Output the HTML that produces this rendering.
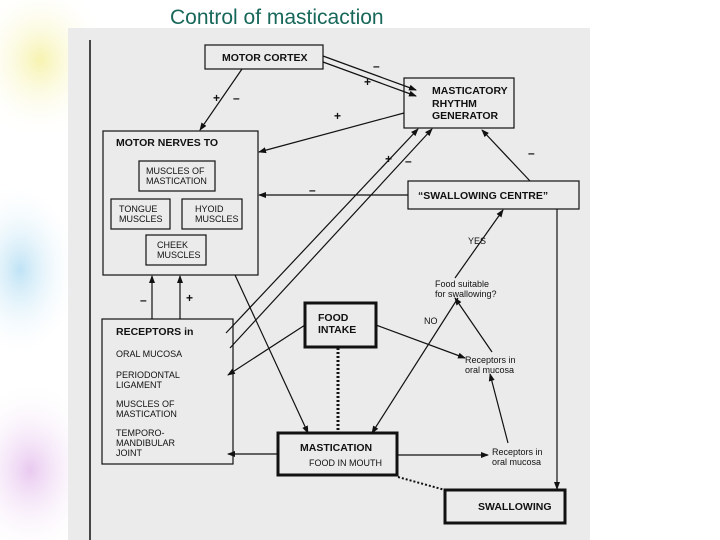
<!DOCTYPE html>
<html><head><meta charset="utf-8"><style>
html,body{margin:0;padding:0;background:#fff;width:720px;height:540px;overflow:hidden}
svg{display:block}
text{font-family:"Liberation Sans",Arial,sans-serif;fill:#111}
.b{font-weight:bold;font-size:10.5px}
.s{font-size:9px}
</style></head><body>
<svg width="720" height="540" viewBox="0 0 720 540" xmlns="http://www.w3.org/2000/svg">
<defs>
<marker id="a" markerWidth="8" markerHeight="8" refX="7" refY="4" orient="auto" markerUnits="userSpaceOnUse">
<path d="M0,1 L8,4 L0,7 z" fill="#111"/></marker>
<radialGradient id="g1"><stop offset="0" stop-color="#f7f3b0"/><stop offset="1" stop-color="#fff" stop-opacity="0"/></radialGradient>
<radialGradient id="g2"><stop offset="0" stop-color="#bfe3f5"/><stop offset="1" stop-color="#fff" stop-opacity="0"/></radialGradient>
<radialGradient id="g3"><stop offset="0" stop-color="#e9c9f0"/><stop offset="1" stop-color="#fff" stop-opacity="0"/></radialGradient>
</defs>
<ellipse cx="40" cy="60" rx="70" ry="80" fill="url(#g1)"/>
<ellipse cx="20" cy="270" rx="60" ry="90" fill="url(#g2)"/>
<ellipse cx="30" cy="470" rx="70" ry="90" fill="url(#g3)"/>
<text x="170" y="24" style="font-size:21px;fill:#17685a">Control of masticaction</text>
<rect x="68" y="28" width="522" height="512" fill="#ebebeb"/>
<g stroke="#111" fill="none" stroke-width="1.2">
<line x1="90" y1="40" x2="90" y2="540" stroke-width="1.5"/>
<rect x="205" y="45" width="118" height="24"/>
<rect x="404" y="78" width="110" height="50"/>
<rect x="103" y="131" width="155" height="144"/>
<rect x="139" y="161" width="76" height="30"/>
<rect x="111" y="199" width="59" height="30"/>
<rect x="182" y="199" width="60" height="30"/>
<rect x="146" y="235" width="60" height="30"/>
<rect x="408" y="181" width="171" height="28"/>
<rect x="102" y="319" width="131" height="145"/>
<rect x="305" y="303" width="71" height="44" stroke-width="3"/>
<rect x="278" y="433" width="119" height="42" stroke-width="3"/>
<rect x="445" y="490" width="120" height="33" stroke-width="3"/>
<line x1="323" y1="56" x2="416" y2="90" marker-end="url(#a)"/>
<line x1="323" y1="62" x2="416" y2="96" marker-end="url(#a)"/>
<line x1="242" y1="69" x2="200" y2="130" marker-end="url(#a)"/>
<line x1="404" y1="113" x2="259" y2="152" marker-end="url(#a)"/>
<line x1="226" y1="333" x2="418" y2="129" marker-end="url(#a)"/>
<line x1="230" y1="348" x2="432" y2="129" marker-end="url(#a)"/>
<line x1="530" y1="181" x2="482" y2="130" marker-end="url(#a)"/>
<line x1="408" y1="195" x2="259" y2="195" marker-end="url(#a)"/>
<line x1="455" y1="278" x2="503" y2="210" marker-end="url(#a)"/>
<line x1="458" y1="298" x2="372" y2="433" marker-end="url(#a)"/>
<line x1="492" y1="352" x2="455" y2="298" marker-end="url(#a)"/>
<line x1="508" y1="443" x2="490" y2="374" marker-end="url(#a)"/>
<line x1="376" y1="325" x2="465" y2="358" marker-end="url(#a)"/>
<line x1="305" y1="325" x2="228" y2="375" marker-end="url(#a)"/>
<line x1="235" y1="275" x2="308" y2="433" marker-end="url(#a)"/>
<line x1="278" y1="454" x2="228" y2="454" marker-end="url(#a)"/>
<line x1="397" y1="455" x2="488" y2="455" marker-end="url(#a)"/>
<line x1="152" y1="319" x2="152" y2="276" marker-end="url(#a)"/>
<line x1="180" y1="319" x2="180" y2="276" marker-end="url(#a)"/>
<line x1="557" y1="209" x2="557" y2="489" marker-end="url(#a)"/>
<line x1="338" y1="348" x2="338" y2="432" stroke-width="3" stroke-dasharray="2,2"/>
<line x1="398" y1="477" x2="445" y2="490" stroke-width="2" stroke-dasharray="2,2"/>
</g>
<text x="222" y="61" class="b">MOTOR CORTEX</text>
<text x="432" y="94" class="b">MASTICATORY</text>
<text x="432" y="107" class="b">RHYTHM</text>
<text x="432" y="119" class="b">GENERATOR</text>
<text x="116" y="146" class="b">MOTOR NERVES TO</text>
<text x="146" y="174" class="s">MUSCLES OF</text>
<text x="146" y="184" class="s">MASTICATION</text>
<text x="119" y="212" class="s">TONGUE</text>
<text x="119" y="222" class="s">MUSCLES</text>
<text x="195" y="212" class="s">HYOID</text>
<text x="195" y="222" class="s">MUSCLES</text>
<text x="157" y="248" class="s">CHEEK</text>
<text x="157" y="258" class="s">MUSCLES</text>
<text x="418" y="199" class="b">“SWALLOWING CENTRE”</text>
<text x="116" y="335" class="b">RECEPTORS in</text>
<text x="116" y="357" class="s">ORAL MUCOSA</text>
<text x="116" y="378" class="s">PERIODONTAL</text>
<text x="116" y="388" class="s">LIGAMENT</text>
<text x="116" y="407" class="s">MUSCLES OF</text>
<text x="116" y="417" class="s">MASTICATION</text>
<text x="116" y="436" class="s">TEMPORO-</text>
<text x="116" y="446" class="s">MANDIBULAR</text>
<text x="116" y="456" class="s">JOINT</text>
<text x="318" y="321" class="b">FOOD</text>
<text x="318" y="333" class="b">INTAKE</text>
<text x="300" y="451" class="b">MASTICATION</text>
<text x="309" y="466" class="s">FOOD IN MOUTH</text>
<text x="478" y="510" class="b">SWALLOWING</text>
<text x="468" y="244" class="s">YES</text>
<text x="435" y="287" class="s">Food suitable</text>
<text x="435" y="297" class="s">for swallowing?</text>
<text x="424" y="324" class="s">NO</text>
<text x="465" y="363" class="s">Receptors in</text>
<text x="465" y="373" class="s">oral mucosa</text>
<text x="492" y="455" class="s">Receptors in</text>
<text x="492" y="465" class="s">oral mucosa</text>
<g style="font-size:12px;font-weight:bold">
<text x="373" y="70">–</text><text x="364" y="86">+</text>
<text x="213" y="102">+</text><text x="233" y="102">–</text>
<text x="334" y="120">+</text>
<text x="385" y="163">+</text><text x="405" y="165">–</text>
<text x="528" y="157">–</text>
<text x="309" y="194">–</text>
<text x="140" y="304">–</text><text x="186" y="302">+</text>
</g>
</svg>
</body></html>
